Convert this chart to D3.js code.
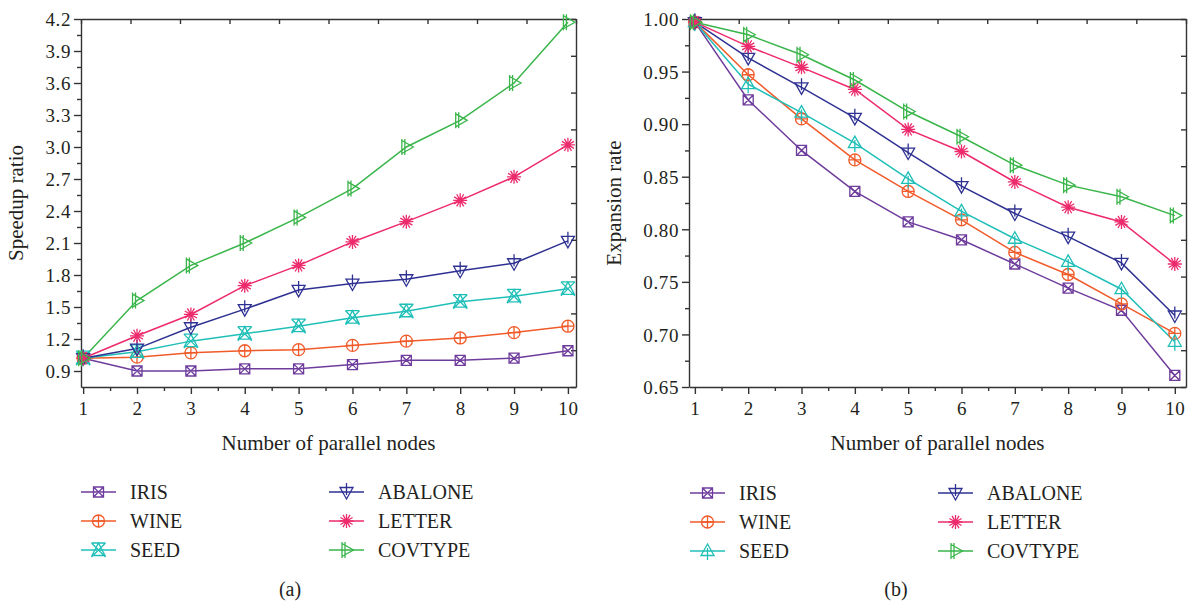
<!DOCTYPE html>
<html lang="en">
<head>
  <meta charset="UTF-8">
  <title>Speedup ratio and expansion rate</title>
  <script src="https://d3js.org/d3.v7.min.js"></script>
  <style>
    body {
      margin: 0;
      background: white;
      font-family: "Liberation Serif", "DejaVu Serif", serif;
    }
    .axis path, .axis line {
      stroke: #333;
      stroke-width: 1.4;
    }
    .axis text {
      font-family: "Liberation Serif", serif;
      font-size: 19px;
      letter-spacing: 0.6px;
      fill: #231f20;
    }
  </style>
</head>
<body>
<svg id="chart" width="1197" height="603"></svg>

<script>
  var nodes = [1, 2, 3, 4, 5, 6, 7, 8, 9, 10];
  var datasets = ["IRIS", "WINE", "SEED", "ABALONE", "LETTER", "COVTYPE"];
  var colors = ["#6e3c9c", "#f15a29", "#1fbfb8", "#2e3192", "#ed2a6b", "#39b54a"];

  // (a) speedup ratio
  var speedIris    = [1.02, 0.90, 0.90, 0.92, 0.92, 0.96, 1.00, 1.00, 1.02, 1.09];
  var speedWine    = [1.02, 1.03, 1.07, 1.09, 1.10, 1.14, 1.18, 1.21, 1.26, 1.32];
  var speedSeed    = [1.02, 1.08, 1.18, 1.25, 1.32, 1.40, 1.46, 1.55, 1.60, 1.67];
  var speedAbalone = [1.02, 1.11, 1.31, 1.48, 1.66, 1.72, 1.76, 1.84, 1.91, 2.12];
  var speedLetter  = [1.02, 1.23, 1.43, 1.70, 1.89, 2.11, 2.30, 2.50, 2.72, 3.02];
  var speedCov     = [1.02, 1.56, 1.89, 2.10, 2.34, 2.61, 3.00, 3.25, 3.60, 4.17];
  var speedTicks = [0.9, 1.2, 1.5, 1.8, 2.1, 2.4, 2.7, 3.0, 3.3, 3.6, 3.9, 4.2];

  // (b) expansion rate
  var expIris    = [0.997, 0.923, 0.875, 0.836, 0.807, 0.790, 0.767, 0.744, 0.723, 0.661];
  var expWine    = [0.997, 0.947, 0.905, 0.866, 0.836, 0.809, 0.778, 0.757, 0.729, 0.701];
  var expSeed    = [0.997, 0.938, 0.911, 0.882, 0.848, 0.817, 0.791, 0.769, 0.743, 0.693];
  var expAbalone = [0.997, 0.963, 0.935, 0.906, 0.873, 0.841, 0.815, 0.793, 0.768, 0.718];
  var expLetter  = [0.997, 0.974, 0.954, 0.933, 0.895, 0.874, 0.845, 0.821, 0.807, 0.767];
  var expCov     = [0.997, 0.985, 0.966, 0.942, 0.912, 0.888, 0.861, 0.842, 0.831, 0.813];
  var expTicks = [0.65, 0.70, 0.75, 0.80, 0.85, 0.90, 0.95, 1.00];

  var svg = d3.select("#chart");

  // marker shapes, centred on 0,0
  function markerPath(name, panel) {
    if (name == "IRIS") return "M-5,-5h10v10h-10z M-5,-5L5,5 M5,-5L-5,5";
    if (name == "WINE") return "M-6,0a6,6 0 1,0 12,0a6,6 0 1,0 -12,0 M-6,0h12 M0,-6v12";
    if (name == "SEED") {
      if (panel == "a") return "M0,-7L6.5,5.5H-6.5Z M-7,-7L7,7 M7,-7L-7,7 M-7,-7H7";
      return "M0,-7L6.5,4.5H-6.5Z M-7,4.5H7 M0,-3V9";
    }
    if (name == "ABALONE") return "M-6.5,-4.5H6.5L0,7Z M-7,-4.5H-6.5 M6.5,-4.5H7 M0,-9V3";
    if (name == "LETTER") {
      var p = "";
      [0, 30, 60, 90, 120, 150].forEach(function (a) {
        var r = 7, t = a * Math.PI / 180;
        p += "M" + (-r * Math.cos(t)) + "," + (-r * Math.sin(t)) + "L" + (r * Math.cos(t)) + "," + (r * Math.sin(t));
      });
      return p;
    }
    return "M-4.5,-6.5L7,0L-4.5,6.5Z M-4.5,-8V8 M-1.5,-8V8";
  }

  function drawPanel(o) {
    var g = svg.append("g");
    var x = d3.scaleLinear().domain(o.xDomain).range([o.left, o.right]);
    var y = d3.scaleLinear().domain(o.yDomain).range([o.bottom, o.top]);

    // minor ticks first
    var minorX = d3.range(1.5, 10.5, 1);
    g.append("g").attr("class", "axis")
      .attr("transform", "translate(0," + o.bottom + ")")
      .call(d3.axisBottom(x).tickValues(minorX).tickSize(4).tickFormat(""))
      .select(".domain").remove();
    var minorY = o.yTicks.slice(0, -1).map(function (d, i) { return (d + o.yTicks[i + 1]) / 2; });
    g.append("g").attr("class", "axis")
      .attr("transform", "translate(" + o.left + ",0)")
      .call(d3.axisLeft(y).tickValues(minorY).tickSize(4).tickFormat(""))
      .select(".domain").remove();

    // top and right frame with inward ticks
    var top = d3.scaleLinear().domain([0, 10]).range([o.left, o.right]);
    g.append("g").attr("class", "axis")
      .attr("transform", "translate(0," + o.top + ")")
      .call(d3.axisTop(top).ticks(10).tickSizeInner(-5).tickSizeOuter(0).tickFormat(""));
    var rgt = d3.scaleLinear().domain([0, 10]).range([o.bottom, o.top]);
    g.append("g").attr("class", "axis")
      .attr("transform", "translate(" + o.right + ",0)")
      .call(d3.axisRight(rgt).ticks(10).tickSizeInner(-5).tickSizeOuter(0).tickFormat(""));

    // main axes
    g.append("g").attr("class", "axis")
      .attr("transform", "translate(0," + o.bottom + ")")
      .call(d3.axisBottom(x).tickValues(nodes).tickSizeInner(7).tickSizeOuter(0).tickPadding(6))
      .selectAll("text").attr("dy", "0.8em");
    g.append("g").attr("class", "axis")
      .attr("transform", "translate(" + o.left + ",0)")
      .call(d3.axisLeft(y).tickValues(o.yTicks).tickFormat(d3.format(o.fmt)).tickSizeInner(7).tickSizeOuter(0).tickPadding(3))
      .selectAll("text").attr("dy", "0.36em");

    // axis titles
    g.append("text")
      .attr("x", (o.left + o.right) / 2).attr("y", 450)
      .attr("text-anchor", "middle")
      .style("font-size", "21px").style("fill", "#231f20")
      .text("Number of parallel nodes");
    g.append("text")
      .attr("transform", "translate(" + o.titleX + "," + ((o.top + o.bottom) / 2) + ") rotate(-90)")
      .attr("text-anchor", "middle")
      .style("font-size", "21px").style("fill", "#231f20")
      .text(o.yTitle);

    // lines and markers
    var line = d3.line().x(function (d, i) { return x(nodes[i]); }).y(function (d) { return y(d); });
    o.series.forEach(function (s, k) {
      g.append("path")
        .datum(s)
        .attr("d", line)
        .attr("fill", "none")
        .attr("stroke", colors[k])
        .attr("stroke-width", 1.5);
    });
    o.series.forEach(function (s, k) {
      g.selectAll(null)
        .data(s)
        .enter()
        .append("path")
        .attr("transform", function (d, i) { return "translate(" + x(nodes[i]) + "," + y(d) + ")"; })
        .attr("d", markerPath(datasets[k], o.panel))
        .attr("fill", "none")
        .attr("stroke", colors[k])
        .attr("stroke-width", 1.3);
    });

    // legend, two columns of three
    datasets.forEach(function (name, k) {
      var col = Math.floor(k / 3), row = k % 3;
      var lx = o.legX[col], ly = o.legY + row * 29;
      var lg = g.append("g").attr("transform", "translate(" + lx + "," + ly + ")");
      lg.append("line").attr("x1", 0).attr("x2", 35).attr("y1", 0).attr("y2", 0)
        .attr("stroke", colors[k]).attr("stroke-width", 1.5);
      lg.append("path").attr("transform", "translate(17.5,0)")
        .attr("d", markerPath(name, o.panel))
        .attr("fill", "none").attr("stroke", colors[k]).attr("stroke-width", 1.3);
      lg.append("text").attr("x", 49).attr("y", 7)
        .style("font-size", "20px").style("fill", "#231f20")
        .text(name);
    });

    g.append("text")
      .attr("x", o.capX).attr("y", 596)
      .attr("text-anchor", "middle")
      .style("font-size", "20px").style("fill", "#231f20")
      .text(o.caption);
  }

  drawPanel({
    panel: "a",
    left: 81, right: 576, top: 19, bottom: 387,
    xDomain: [0.96, 10.15], yDomain: [0.75, 4.2],
    yTicks: speedTicks, fmt: ".1f",
    yTitle: "Speedup ratio", titleX: 23,
    series: [speedIris, speedWine, speedSeed, speedAbalone, speedLetter, speedCov],
    legX: [81, 329], legY: 492,
    capX: 290, caption: "(a)"
  });

  drawPanel({
    panel: "b",
    left: 689, right: 1186, top: 19, bottom: 387,
    xDomain: [0.89, 10.21], yDomain: [0.65, 1.0],
    yTicks: expTicks, fmt: ".2f",
    yTitle: "Expansion rate", titleX: 621,
    series: [expIris, expWine, expSeed, expAbalone, expLetter, expCov],
    legX: [690, 938], legY: 493,
    capX: 896, caption: "(b)"
  });
</script>
</body>
</html>
